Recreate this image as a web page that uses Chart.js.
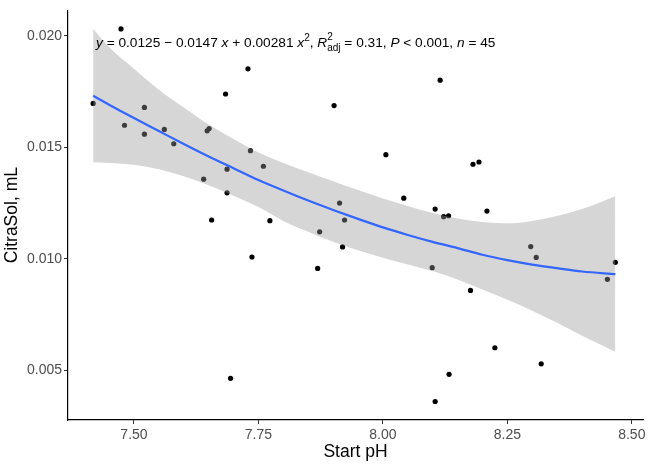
<!DOCTYPE html>
<html>
<head>
<meta charset="utf-8">
<script src="https://cdn.jsdelivr.net/npm/chart.js@4.4.1/dist/chart.umd.min.js"></script>
<style>
  body { margin: 0; background: #fff; }
  canvas { display: block; }
</style>
</head>
<body>
<canvas id="myChart" width="650" height="464"></canvas>
<script>
// observed samples (Start pH, CitraSol mL)
const startPH = [7.418, 7.474, 7.481, 7.521, 7.521, 7.561, 7.580, 7.640, 7.647, 7.651,
  7.656, 7.684, 7.687, 7.687, 7.729, 7.734, 7.760, 7.773, 7.873, 7.902,
  8.115, 8.006, 8.181, 8.193, 7.913, 7.923, 8.042, 8.105, 8.122, 8.132,
  8.209, 7.737, 7.869, 7.694, 7.919, 8.099, 8.176, 8.297, 8.308, 8.467,
  8.451, 8.225, 8.318, 8.133, 8.105];
const citraSol = [0.01697, 0.02031, 0.01599, 0.01679, 0.01559, 0.01580, 0.01516, 0.01357, 0.01574, 0.01584,
  0.01174, 0.01739, 0.01402, 0.01296, 0.01852, 0.01485, 0.01415, 0.01171, 0.01121, 0.01687,
  0.01801, 0.01467, 0.01424, 0.01434, 0.01250, 0.01174, 0.01272, 0.01223, 0.01189, 0.01193,
  0.01214, 0.01008, 0.00957, 0.00464, 0.01053, 0.00960, 0.00858, 0.01055, 0.01006, 0.00984,
  0.00908, 0.00601, 0.00529, 0.00482, 0.00360];

// fitted curve + confidence band
const fitX = [7.418, 7.45, 7.50, 7.55, 7.60, 7.65, 7.70, 7.75, 7.80, 7.85, 7.90,
  7.95, 8.00, 8.05, 8.10, 8.15, 8.20, 8.25, 8.30, 8.35, 8.40, 8.467];
const fitY = [0.01731, 0.01691, 0.01631, 0.01573, 0.01515, 0.01459, 0.01406, 0.01353, 0.01306, 0.01261, 0.01219,
  0.01179, 0.01141, 0.01107, 0.01076, 0.01048, 0.01018, 0.00994, 0.00974, 0.00958, 0.00943, 0.00931];
const bandUpper = [0.02031, 0.01950, 0.01852, 0.01758, 0.01678, 0.01602, 0.01537, 0.01477, 0.01430, 0.01388, 0.01348,
  0.01308, 0.01270, 0.01237, 0.01205, 0.01181, 0.01165, 0.01159, 0.01170, 0.01192, 0.01223, 0.01281];
const bandLower = [0.01433, 0.01430, 0.01422, 0.01402, 0.01370, 0.01330, 0.01283, 0.01232, 0.01170, 0.01121, 0.01076,
  0.01038, 0.01005, 0.00974, 0.00945, 0.00907, 0.00862, 0.00816, 0.00767, 0.00713, 0.00655, 0.00583];

const xTicks = [7.50, 7.75, 8.00, 8.25, 8.50];
const yTicks = [0.005, 0.010, 0.015, 0.020];

const toXY = (xs, ys) => xs.map((x, i) => ({x: x, y: ys[i]}));

const FONT = "'Liberation Sans', Arial, sans-serif";

const whiteBg = {
  id: 'whiteBg',
  beforeDraw: (chart) => {
    const ctx = chart.ctx;
    ctx.save();
    ctx.fillStyle = 'white';
    ctx.fillRect(0, 0, chart.width, chart.height);
    ctx.restore();
  }
};

// equation label, mixed italic / super / subscript
const eqLabel = {
  id: 'eqLabel',
  afterDraw: (chart) => {
    const ctx = chart.ctx;
    const size = 13.7;
    const reg = size + 'px ' + FONT;
    const ital = 'italic ' + size + 'px ' + FONT;
    const small = '10px ' + FONT;
    const parts = [
      ['y', ital], [' = 0.0125 \u2212 0.0147 ', reg], ['x', ital], [' + 0.00281 ', reg],
      ['x', ital], ['2', small, -6], [', ', reg], ['R', ital], ['2', small, -7, 'adj'],
      [' = 0.31, ', reg], ['P', ital], [' < 0.001, ', reg], ['n', ital], [' = 45', reg]
    ];
    let x = chart.chartArea.left + 28;
    const y = chart.chartArea.top + 36.5;
    ctx.save();
    ctx.fillStyle = '#000';
    ctx.textBaseline = 'alphabetic';
    ctx.textAlign = 'left';
    parts.forEach(p => {
      ctx.font = p[1];
      const dy = p[2] || 0;
      ctx.fillText(p[0], x, y + dy);
      let w = ctx.measureText(p[0]).width;
      if (p[3]) {
        ctx.fillText(p[3], x, y + 4);
        w = Math.max(w, ctx.measureText(p[3]).width);
      }
      x += w;
    });
    ctx.restore();
  }
};

const ctx = document.getElementById('myChart').getContext('2d');

new Chart(ctx, {
  type: 'scatter',
  plugins: [whiteBg, eqLabel],
  data: {
    datasets: [
      {
        type: 'line',
        label: 'fit',
        data: toXY(fitX, fitY),
        borderColor: '#3366FF',
        borderWidth: 2.2,
        pointRadius: 0,
        fill: false,
        cubicInterpolationMode: 'monotone',
        order: 0
      },
      {
        type: 'line',
        label: 'upper',
        data: toXY(fitX, bandUpper),
        borderWidth: 0,
        borderColor: 'rgba(0,0,0,0)',
        backgroundColor: 'rgba(153,153,153,0.4)',
        pointRadius: 0,
        fill: '+1',
        cubicInterpolationMode: 'monotone',
        order: 1
      },
      {
        type: 'line',
        label: 'lower',
        data: toXY(fitX, bandLower),
        borderWidth: 0,
        borderColor: 'rgba(0,0,0,0)',
        pointRadius: 0,
        fill: false,
        cubicInterpolationMode: 'monotone',
        order: 1
      },
      {
        label: 'samples',
        data: toXY(startPH, citraSol),
        backgroundColor: '#000',
        borderWidth: 0,
        pointRadius: 2.6,
        order: 2
      }
    ]
  },
  options: {
    responsive: false,
    animation: false,
    layout: { padding: { top: 7, right: 7, left: 0, bottom: 0 } },
    plugins: {
      legend: { display: false },
      tooltip: { enabled: false }
    },
    scales: {
      x: {
        type: 'linear',
        min: 7.3675,
        max: 8.5225,
        afterBuildTicks: (scale) => { scale.ticks = xTicks.map(v => ({value: v})); },
        afterFit: (scale) => { scale.height = 44; },
        grid: { drawOnChartArea: false, drawTicks: true, tickLength: 4, color: '#333' },
        border: { display: true, color: '#000', width: 1.2 },
        ticks: {
          color: '#4d4d4d',
          padding: 3,
          font: { family: FONT, size: 14 },
          callback: (v) => Number(v).toFixed(2)
        },
        title: {
          display: true,
          text: 'Start pH',
          color: '#000',
          font: { family: FONT, size: 17.5 },
          padding: { top: 0, bottom: 1 }
        }
      },
      y: {
        type: 'linear',
        min: 0.00277,
        max: 0.02114,
        afterBuildTicks: (scale) => { scale.ticks = yTicks.map(v => ({value: v})); },
        afterFit: (scale) => { scale.width = 68; },
        grid: { drawOnChartArea: false, drawTicks: true, tickLength: 4, color: '#333' },
        border: { display: true, color: '#000', width: 1.2 },
        ticks: {
          color: '#4d4d4d',
          padding: 2,
          font: { family: FONT, size: 14 },
          callback: (v) => Number(v).toFixed(3)
        },
        title: {
          display: true,
          text: 'CitraSol, mL',
          color: '#000',
          font: { family: FONT, size: 17.5 },
          padding: { top: 2, bottom: 0 }
        }
      }
    }
  }
});
</script>
</body>
</html>
